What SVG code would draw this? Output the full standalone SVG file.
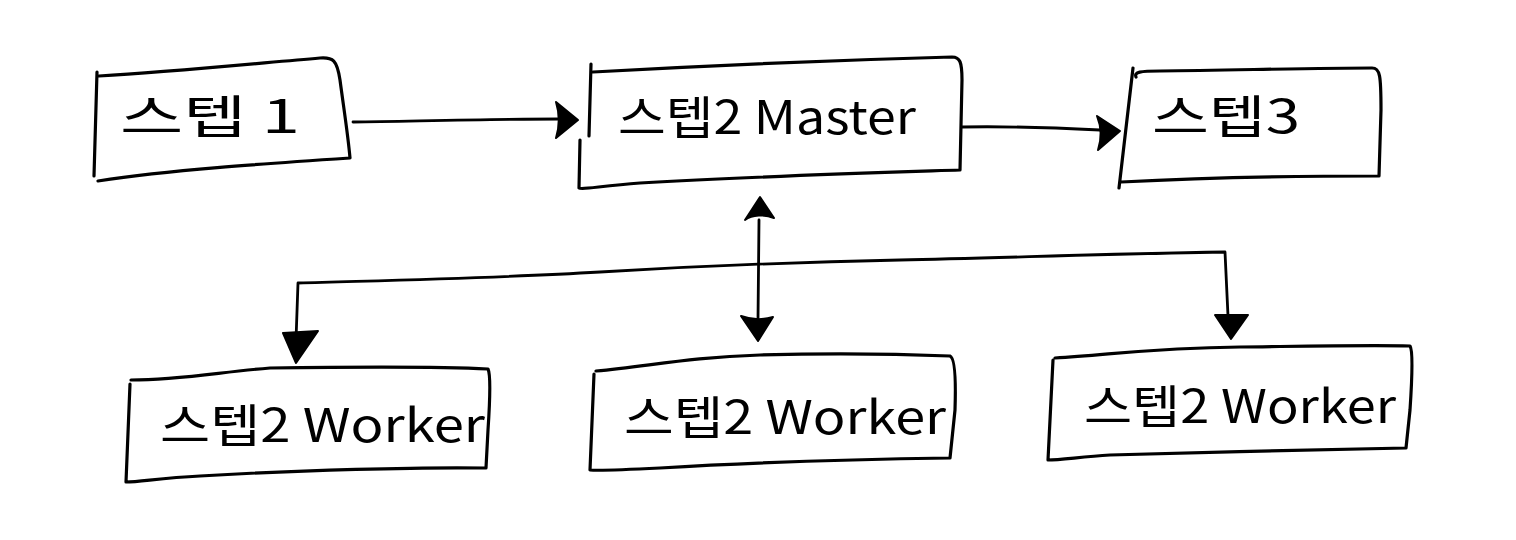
<svg xmlns="http://www.w3.org/2000/svg" width="1516" height="540" viewBox="0 0 1516 540">
<style>
.box{fill:none;stroke:#000;stroke-width:3.2;stroke-linecap:round;stroke-linejoin:round}
.ln{fill:none;stroke:#000;stroke-width:2.8;stroke-linecap:round;stroke-linejoin:round}
.hd{fill:#000;stroke:#000;stroke-width:2;stroke-linejoin:round}
.t{font-family:"Noto Sans CJK KR","Noto Sans",sans-serif;font-weight:400;font-size:46px;fill:#000}
</style>
<rect width="1516" height="540" fill="#fff"/>
<g id="step1">
<path class="box" d="M97 72 L94 176 M99 76 C170 72 250 64 320 58 C333 57 337 60 340 80 C344 110 348 135 350 158 C260 164 170 170 98 181"/>
<text class="t" x="120" y="133" textLength="180" lengthAdjust="spacingAndGlyphs">스텝 1</text>
</g>
<g id="step2-master">
<path class="box" d="M591 64 L589 136 M593 72 C700 66 840 60 952 57 C960 57 962 62 962 80 L960 170 C900 172 760 176 640 183 C600 186 582 190 579 188 L580 140"/>
<text class="t" x="618" y="134" textLength="298" lengthAdjust="spacingAndGlyphs">스텝2 Master</text>
</g>
<g id="step3">
<path class="box" d="M1133 68 L1119 188 M1136 77 C1134 72 1140 71 1160 71 C1240 70 1320 68 1372 68 C1380 68 1381 75 1381 110 L1379 176 C1300 176 1200 178 1121 182"/>
<text class="t" x="1152" y="133" textLength="148" lengthAdjust="spacingAndGlyphs">스텝3</text>
</g>
<g id="worker1">
<path class="box" d="M131 380 C180 380 220 372 270 368 C350 367 430 366 488 369 C491 375 490 400 488 430 L486 468 C420 467 300 470 200 476 C160 478 140 482 126 482 L130 384"/>
<text class="t" x="160" y="442" textLength="325" lengthAdjust="spacingAndGlyphs">스텝2 Worker</text>
</g>
<g id="worker2">
<path class="box" d="M596 371 C650 366 690 357 760 355 C830 353 900 354 950 356 C955 358 956 380 955 410 L950 458 C880 459 760 462 660 468 C620 470 600 471 590 470 L594 374"/>
<text class="t" x="624" y="434" textLength="322" lengthAdjust="spacingAndGlyphs">스텝2 Worker</text>
</g>
<g id="worker3">
<path class="box" d="M1055 358 C1110 355 1150 348 1240 347 C1320 346 1370 345 1410 346 C1413 350 1412 380 1410 410 L1406 448 C1330 450 1200 452 1110 455 C1080 457 1060 460 1048 460 L1053 360"/>
<text class="t" x="1084" y="423" textLength="312" lengthAdjust="spacingAndGlyphs">스텝2 Worker</text>
</g>
<g id="connectors">
<path class="ln" d="M353 122 C420 121 500 119 560 119"/>
<path class="hd" d="M556 102 L578 120 L556 138 C560 125 560 115 556 102 Z"/>
<path class="ln" d="M962 127 C1010 126 1060 128 1100 130"/>
<path class="hd" d="M1097 116 L1120 131 L1098 150 C1102 138 1101 126 1097 116 Z"/>
<path class="ln" d="M759 220 L758 320"/>
<path class="hd" d="M745 220 L760 197 L774 218 C765 214 752 215 745 220 Z"/>
<path class="hd" d="M741 316 C752 320 763 320 773 317 L758 341 Z"/>
<path class="ln" d="M296 340 L298 283 C400 280 500 278 600 272 C700 266 800 262 900 260 C1000 258 1100 254 1225 252 L1228 316"/>
<path class="hd" d="M283 333 L318 331 L296 363 Z"/>
<path class="hd" d="M1215 315 L1248 315 L1231 339 Z"/>
</g>
</svg>
